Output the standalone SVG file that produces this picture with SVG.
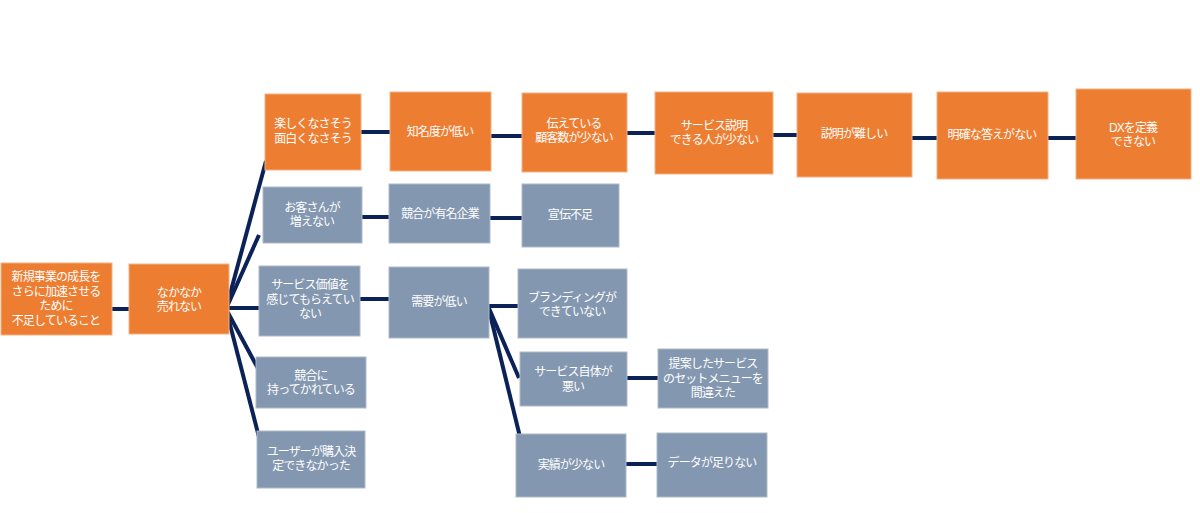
<svg xmlns="http://www.w3.org/2000/svg" width="1200" height="513" viewBox="0 0 1200 513">
<style>
.o{fill:#ED7D31;stroke:#F4B183;stroke-width:1}
.g{fill:#8497B0;stroke:#ADB9CA;stroke-width:1}
text{font-family:"Liberation Sans","Noto Sans CJK JP",sans-serif;font-size:12px;fill:#ffffff;text-anchor:middle;dominant-baseline:central;letter-spacing:-0.9px}
.c line{stroke:#0B2259;stroke-width:4;stroke-linecap:butt}
</style>
<rect width="1200" height="513" fill="#ffffff"/>
<g class="c" id="connectors">
<line x1="101" y1="309" x2="135" y2="309"/>
<line x1="226" y1="309" x2="266" y2="161"/>
<line x1="226" y1="309" x2="259" y2="235"/>
<line x1="226" y1="308" x2="262" y2="308"/>
<line x1="226" y1="309" x2="261" y2="374"/>
<line x1="226" y1="309" x2="260" y2="441"/>
<line x1="359" y1="132" x2="393" y2="132"/>
<line x1="489" y1="136" x2="523" y2="136"/>
<line x1="624" y1="133" x2="657" y2="133"/>
<line x1="771" y1="135" x2="802" y2="135"/>
<line x1="910" y1="138" x2="939" y2="138"/>
<line x1="1046" y1="138" x2="1079" y2="138"/>
<line x1="359" y1="217" x2="392" y2="217"/>
<line x1="489" y1="218" x2="523" y2="218"/>
<line x1="356" y1="299" x2="389" y2="299"/>
<line x1="488" y1="306" x2="523" y2="306"/>
<line x1="488" y1="306" x2="519" y2="378"/>
<line x1="488" y1="306" x2="521" y2="441"/>
<line x1="625" y1="378" x2="659" y2="378"/>
<line x1="623" y1="464" x2="658" y2="464"/>
</g>
<g id="n-root"><rect class="o" x="1" y="263" width="111" height="72"/><text x="56" y="277">新規事業の成長を<tspan x="56" dy="14.7">さらに加速させる</tspan><tspan x="56" dy="14.7">ために</tspan><tspan x="56" dy="14.7">不足していること</tspan></text></g>
<g id="n-nakanaka"><rect class="o" x="129" y="264" width="100" height="70"/><text x="179" y="293">なかなか<tspan x="179" dy="14">売れない</tspan></text></g>
<g id="n-tanoshiku"><rect class="o" x="265" y="94" width="96" height="76"/><text x="313" y="124">楽しくなさそう<tspan x="313" dy="15">面白くなさそう</tspan></text></g>
<g id="n-okyaku"><rect class="g" x="263" y="187" width="99" height="56"/><text x="312" y="208">お客さんが<tspan x="312" dy="14">増えない</tspan></text></g>
<g id="n-kachi"><rect class="g" x="259" y="266" width="101" height="70"/><text x="310" y="285">サービス価値を<tspan x="310" dy="14.5">感じてもらえてい</tspan><tspan x="310" dy="14.5">ない</tspan></text></g>
<g id="n-kyogo"><rect class="g" x="256" y="357" width="110" height="51"/><text x="311" y="376">競合に<tspan x="311" dy="14">持ってかれている</tspan></text></g>
<g id="n-user"><rect class="g" x="257" y="431" width="108" height="57"/><text x="311" y="452">ユーザーが購入決<tspan x="311" dy="14">定できなかった</tspan></text></g>
<g id="n-chimei"><rect class="o" x="390" y="92" width="101" height="79"/><text x="440" y="132">知名度が低い</text></g>
<g id="n-tsutae"><rect class="o" x="522" y="93" width="105" height="79"/><text x="574" y="124">伝えている<tspan x="574" dy="14">顧客数が少ない</tspan></text></g>
<g id="n-setsumei"><rect class="o" x="655" y="92" width="118" height="82"/><text x="714" y="126">サービス説明<tspan x="714" dy="14">できる人が少ない</tspan></text></g>
<g id="n-muzukashii"><rect class="o" x="797" y="93" width="115" height="84"/><text x="854" y="134">説明が難しい</text></g>
<g id="n-meikaku"><rect class="o" x="937" y="92" width="111" height="87"/><text x="992" y="135">明確な答えがない</text></g>
<g id="n-dx"><rect class="o" x="1076" y="89" width="115" height="90"/><text x="1133" y="128">DXを定義<tspan x="1133" dy="14">できない</tspan></text></g>
<g id="n-yumei"><rect class="g" x="389" y="184" width="101" height="59"/><text x="440" y="214">競合が有名企業</text></g>
<g id="n-senden"><rect class="g" x="522" y="184" width="97" height="63"/><text x="570" y="215">宣伝不足</text></g>
<g id="n-juyo"><rect class="g" x="389" y="267" width="100" height="71"/><text x="439" y="302">需要が低い</text></g>
<g id="n-brand"><rect class="g" x="518" y="269" width="109" height="69"/><text x="572" y="298">ブランディングが<tspan x="572" dy="14">できていない</tspan></text></g>
<g id="n-jitai"><rect class="g" x="520" y="352" width="107" height="54"/><text x="573" y="372">サービス自体が<tspan x="573" dy="15">悪い</tspan></text></g>
<g id="n-teian"><rect class="g" x="658" y="349" width="110" height="59"/><text x="713" y="364">提案したサービス<tspan x="713" dy="14.5">のセットメニューを</tspan><tspan x="713" dy="14.5">間違えた</tspan></text></g>
<g id="n-jisseki"><rect class="g" x="516" y="434" width="110" height="63"/><text x="571" y="465">実績が少ない</text></g>
<g id="n-data"><rect class="g" x="657" y="433" width="110" height="64"/><text x="712" y="463">データが足りない</text></g>
</svg>
